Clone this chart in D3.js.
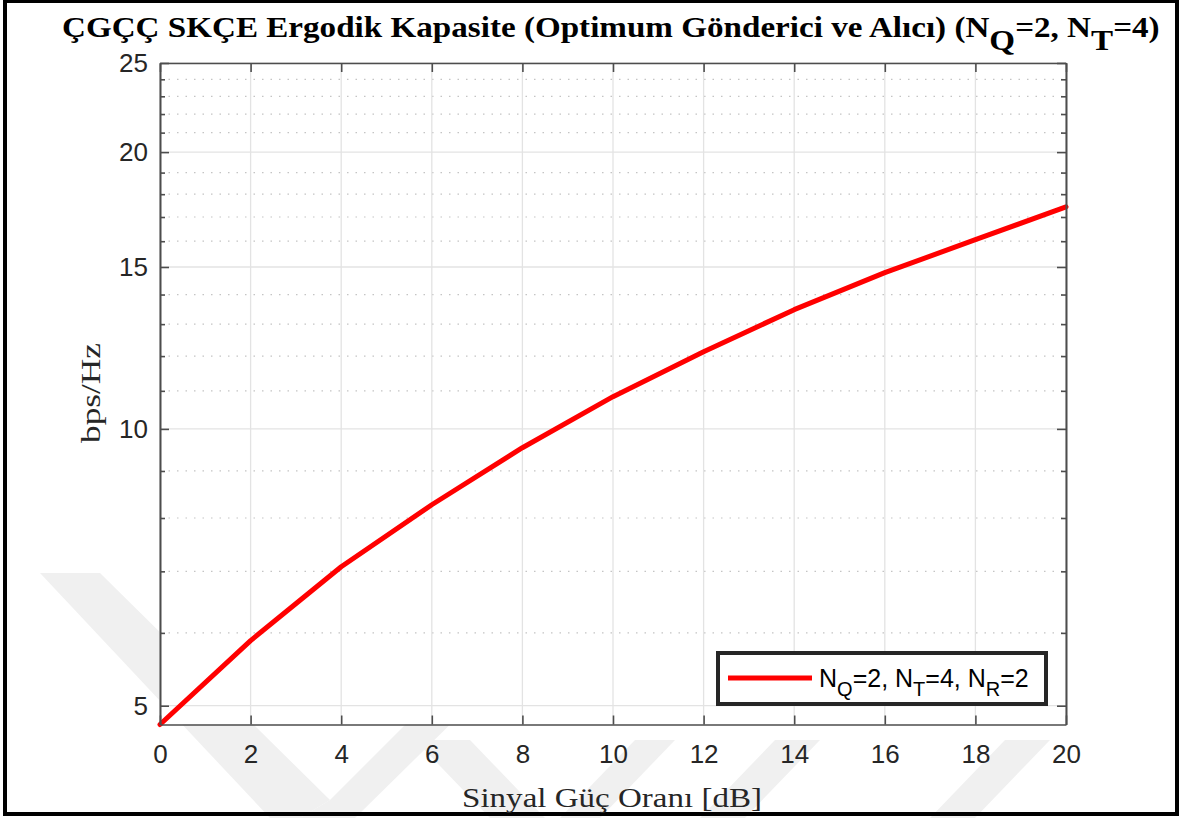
<!DOCTYPE html>
<html>
<head>
<meta charset="utf-8">
<script src="https://cdn.jsdelivr.net/npm/d3@7"></script>
<style>
  body { margin: 0; background: #fff; }
  svg { display: block; }
</style>
</head>
<body>
<div id="chart"></div>
<script>
// SNR values (dB) and ergodic capacity (bps/Hz)
var snrDb = [0, 2, 4, 6, 8, 10, 12, 14, 16, 18, 20];
var capacity = [4.77, 5.885, 7.08, 8.27, 9.54, 10.84, 12.13, 13.48, 14.79, 16.06, 17.44];

var xTicks = [0, 2, 4, 6, 8, 10, 12, 14, 16, 18, 20];
var yMajorTicks = [5, 10, 15, 20, 25];
var yMinorTicks = [6, 7, 8, 9, 11, 12, 13, 14, 16, 17, 18, 19, 21, 22, 23, 24];

var seriesName = [["N", ""], ["Q", "sub"], ["=2, N", ""], ["T", "sub"], ["=4, N", ""], ["R", "sub"], ["=2", ""]];
var titleParts = [["ÇGÇÇ SKÇE Ergodik Kapasite (Optimum Gönderici ve Alıcı) (N", ""], ["Q", "sub"], ["=2, N", ""], ["T", "sub"], ["=4)", ""]];

var W = 1180, H = 818;
var margin = { top: 63, right: 114, bottom: 93.5, left: 160 },
    width = W - margin.left - margin.right,
    height = H - margin.top - margin.bottom;

var serif = "'Liberation Serif', 'Times New Roman', serif";
var sans = "'Liberation Sans', Arial, sans-serif";

var svg = d3.select("#chart").append("svg")
    .attr("width", W)
    .attr("height", H);

// faint watermark in the margins (behind the axes)
var wm = svg.append("g").attr("fill", "#f0f0f0");
wm.append("path").attr("d", "M40,573 L100,573 L330,800 L300,818 L270,818 Z");
wm.append("path").attr("d", "M300,818 L330,800 L430,700 L475,700 L355,818 Z");
wm.append("path").attr("d", "M415,740 L470,740 L545,818 L490,818 Z");
wm.append("path").attr("d", "M560,818 L600,818 L675,740 L635,740 Z");
wm.append("path").attr("d", "M700,818 L745,818 L820,740 L775,740 Z");
wm.append("path").attr("d", "M930,818 L975,818 L1050,740 L1005,740 Z");

// outer frame
svg.append("rect")
    .attr("x", 5).attr("y", 1)
    .attr("width", 1172).attr("height", 813)
    .attr("fill", "none")
    .attr("stroke", "#000")
    .attr("stroke-width", 4);

var g = svg.append("g")
    .attr("transform", "translate(" + margin.left + "," + margin.top + ")");

var x = d3.scaleLinear().domain([0, 20]).range([0, width]);
var y = d3.scaleLog().domain([4.77, 25]).range([height, 0]);

g.append("rect").attr("width", width).attr("height", height).attr("fill", "#fff");

// minor grid (dotted)
g.append("g").selectAll("line")
    .data(yMinorTicks).enter().append("line")
    .attr("x1", 0).attr("x2", width)
    .attr("y1", function(d) { return y(d); })
    .attr("y2", function(d) { return y(d); })
    .attr("stroke", "#c4c4c4")
    .attr("stroke-width", 1.2)
    .attr("stroke-dasharray", "1.5,7");

// major grid
g.append("g").selectAll("line")
    .data(yMajorTicks).enter().append("line")
    .attr("x1", 0).attr("x2", width)
    .attr("y1", function(d) { return y(d); })
    .attr("y2", function(d) { return y(d); })
    .attr("stroke", "#e3e3e3")
    .attr("stroke-width", 1.3);

g.append("g").selectAll("line")
    .data(xTicks).enter().append("line")
    .attr("y1", 0).attr("y2", height)
    .attr("x1", function(d) { return x(d); })
    .attr("x2", function(d) { return x(d); })
    .attr("stroke", "#e3e3e3")
    .attr("stroke-width", 1.3);

// the capacity line
var valueline = d3.line()
    .x(function(d, i) { return x(snrDb[i]); })
    .y(function(d) { return y(d); });

g.append("path")
    .datum(capacity)
    .attr("fill", "none")
    .attr("stroke", "#ff0000")
    .attr("stroke-width", 5)
    .attr("stroke-linejoin", "round")
    .attr("stroke-linecap", "round")
    .attr("d", valueline);

// axes (ticks pointing inward, box on)
function styleAxis(sel) {
    sel.select(".domain").attr("stroke", "#4d4d4d").attr("stroke-width", 1.6);
    sel.selectAll(".tick line").attr("stroke", "#4d4d4d").attr("stroke-width", 1.6);
    sel.selectAll(".tick text")
        .style("font-family", sans)
        .style("font-size", "26px")
        .style("fill", "#262626");
}

g.append("g")
    .attr("transform", "translate(0," + height + ")")
    .call(d3.axisBottom(x).tickValues(xTicks).tickSize(-9).tickSizeOuter(0).tickPadding(20))
    .call(styleAxis);

g.append("g")
    .call(d3.axisTop(x).tickValues(xTicks).tickSize(-9).tickSizeOuter(0).tickFormat(""))
    .call(styleAxis);

g.append("g")
    .call(d3.axisLeft(y).tickValues(yMajorTicks).tickSize(-9).tickSizeOuter(0).tickPadding(12).tickFormat(d3.format("d")))
    .call(styleAxis);

g.append("g")
    .call(d3.axisLeft(y).tickValues(yMinorTicks).tickSize(-5).tickSizeOuter(0).tickFormat(""))
    .call(styleAxis);

g.append("g")
    .attr("transform", "translate(" + width + ",0)")
    .call(d3.axisRight(y).tickValues(yMajorTicks).tickSize(-9).tickSizeOuter(0).tickFormat(""))
    .call(styleAxis);

g.append("g")
    .attr("transform", "translate(" + width + ",0)")
    .call(d3.axisRight(y).tickValues(yMinorTicks).tickSize(-5).tickSizeOuter(0).tickFormat(""))
    .call(styleAxis);

// axis labels, stretched along the baseline like the reference
var xLabel = svg.append("text")
    .attr("text-anchor", "middle")
    .style("font-family", serif)
    .style("font-size", "28px")
    .style("fill", "#262626")
    .text("Sinyal Güç Oranı [dB]");
var xw = xLabel.node().getBBox().width;
xLabel.attr("transform", "translate(612,807) scale(" + (300 / xw) + ",1)");

var yLabel = svg.append("text")
    .attr("text-anchor", "middle")
    .style("font-family", serif)
    .style("font-size", "28px")
    .style("fill", "#262626")
    .text("bps/Hz");
var yw = yLabel.node().getBBox().width;
yLabel.attr("transform", "translate(100,393) rotate(-90) scale(" + (100 / yw) + ",1)");

// title with subscripts, squeezed to the reference width
var title = svg.append("text")
    .attr("x", 0).attr("y", 0)
    .style("font-family", serif)
    .style("font-size", "30px")
    .style("font-weight", "bold")
    .style("fill", "#000");

titleParts.forEach(function(p, i) {
    var t = title.append("tspan").text(p[0]);
    if (p[1] === "sub") t.attr("dy", 13);
    else if (i > 0) t.attr("dy", -13);
});

var tb = title.node().getBBox();
title.attr("transform", "translate(62,37) scale(" + (1098 / tb.width) + ",1)");

// legend
var legend = svg.append("g").attr("transform", "translate(718,653)");

legend.append("rect")
    .attr("width", 328).attr("height", 51)
    .attr("fill", "#fff")
    .attr("stroke", "#262626")
    .attr("stroke-width", 4);

legend.append("line")
    .attr("x1", 10).attr("x2", 94)
    .attr("y1", 25).attr("y2", 25)
    .attr("stroke", "#ff0000")
    .attr("stroke-width", 5);

var legendText = legend.append("text")
    .attr("x", 101).attr("y", 34)
    .style("font-family", sans)
    .style("font-size", "25px")
    .style("fill", "#000");

seriesName.forEach(function(p, i) {
    var t = legendText.append("tspan").text(p[0]);
    if (p[1] === "sub") t.attr("dy", 9).style("font-size", "20px");
    else if (i > 0) t.attr("dy", -9);
});
</script>
</body>
</html>
